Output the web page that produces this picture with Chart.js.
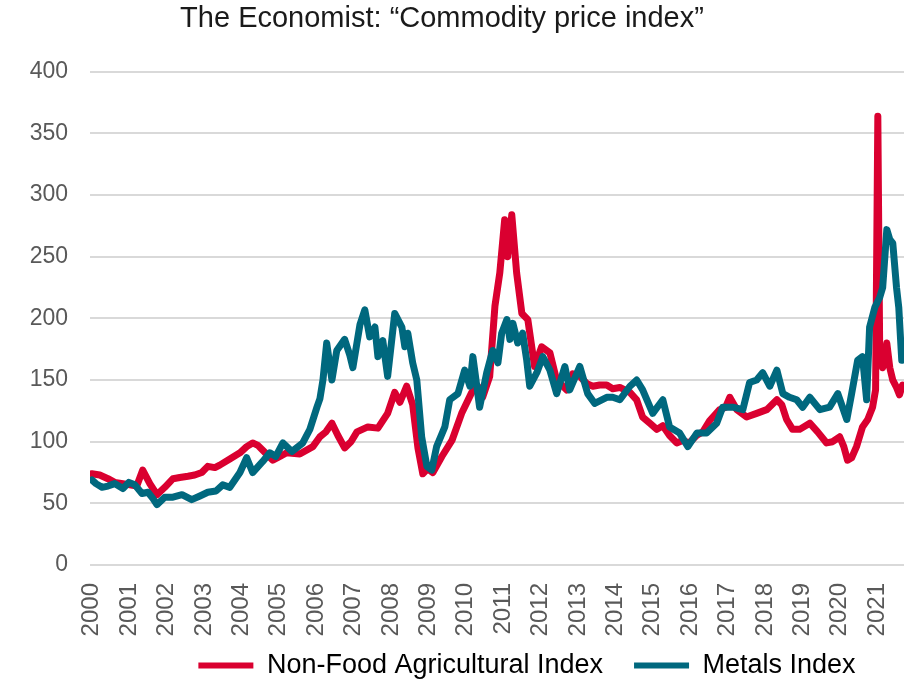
<!DOCTYPE html>
<html>
<head>
<meta charset="utf-8">
<script src="https://cdn.jsdelivr.net/npm/chart.js@4"></script>
<style>
	html, body { margin: 0; padding: 0; background: #fff; }
	#wrap { width: 904px; height: 680px; }
</style>
</head>
<body>
<div id="wrap"><canvas id="priceChart" width="904" height="680"></canvas></div>
<script>
'use strict';

// decimal years
const agriYears = [
	2000.00, 2000.21, 2000.43, 2000.61, 2000.83, 2001.02, 2001.20, 2001.36, 2001.55, 2001.74,
	2001.95, 2002.17, 2002.35, 2002.57, 2002.75, 2002.94, 2003.10, 2003.29, 2003.42, 2003.69,
	2003.96, 2004.14, 2004.30, 2004.44, 2004.57, 2004.84, 2005.03, 2005.21, 2005.56, 2005.91,
	2006.10, 2006.26, 2006.42, 2006.58, 2006.76, 2006.93, 2007.09, 2007.38, 2007.65, 2007.91,
	2008.10, 2008.24, 2008.42, 2008.58, 2008.72, 2008.85, 2008.98, 2009.12, 2009.36, 2009.63,
	2009.89, 2010.16, 2010.32, 2010.45, 2010.64, 2010.78, 2010.91, 2011.04, 2011.12, 2011.23,
	2011.36, 2011.50, 2011.66, 2011.84, 2012.03, 2012.25, 2012.43, 2012.70, 2012.86, 2013.05,
	2013.24, 2013.40, 2013.58, 2013.77, 2013.93, 2014.12, 2014.39, 2014.57, 2014.73, 2014.92,
	2015.11, 2015.27, 2015.45, 2015.64, 2015.80, 2015.98, 2016.17, 2016.34, 2016.52, 2016.79,
	2016.95, 2017.06, 2017.25, 2017.51, 2017.78, 2018.05, 2018.32, 2018.45, 2018.58, 2018.74,
	2018.93, 2019.20, 2019.41, 2019.65, 2019.81, 2020.00, 2020.11, 2020.21, 2020.32, 2020.45,
	2020.61, 2020.75, 2020.88, 2020.96, 2021.02, 2021.07, 2021.15, 2021.26, 2021.34, 2021.42,
	2021.52, 2021.60, 2021.68
];
const agriValues = [
	74, 73, 70, 67, 66, 65, 64, 77, 66, 57,
	63, 70, 71, 72, 73, 75, 80, 79, 81, 86,
	91, 96, 99, 97, 93, 85, 88, 91, 90, 96,
	104, 108, 115, 105, 95, 100, 108, 112, 111, 123,
	140, 132, 145, 130, 95, 74, 78, 75, 88, 101,
	123, 140, 145, 136, 153, 210, 237, 280, 250, 284,
	237, 204, 199, 161, 177, 172, 150, 142, 155, 153,
	147, 145, 146, 146, 143, 144, 140, 134, 120, 115,
	110, 113, 105, 99, 101, 99, 105, 108, 117, 126,
	128, 136, 126, 120, 123, 126, 134, 130, 118, 110,
	110, 115, 108, 99, 100, 104, 96, 85, 87, 96,
	112, 118, 128, 142, 364, 175, 160, 180, 160, 150,
	144, 138, 146
];

const metalYears = [
	2000.00, 2000.11, 2000.27, 2000.43, 2000.61, 2000.83, 2000.99, 2001.15, 2001.34, 2001.50,
	2001.63, 2001.74, 2001.95, 2002.17, 2002.41, 2002.67, 2002.89, 2003.10, 2003.32, 2003.50,
	2003.69, 2003.96, 2004.14, 2004.30, 2004.57, 2004.76, 2004.92, 2005.11, 2005.35, 2005.64,
	2005.83, 2006.02, 2006.10, 2006.18, 2006.28, 2006.42, 2006.55, 2006.76, 2006.90, 2006.98,
	2007.17, 2007.30, 2007.43, 2007.57, 2007.65, 2007.78, 2007.91, 2008.10, 2008.29, 2008.37,
	2008.45, 2008.58, 2008.69, 2008.82, 2008.96, 2009.09, 2009.22, 2009.44, 2009.57, 2009.79,
	2009.97, 2010.11, 2010.19, 2010.37, 2010.56, 2010.72, 2010.86, 2010.96, 2011.10, 2011.18,
	2011.26, 2011.39, 2011.52, 2011.63, 2011.71, 2011.90, 2012.06, 2012.25, 2012.43, 2012.65,
	2012.78, 2013.05, 2013.26, 2013.45, 2013.77, 2013.93, 2014.12, 2014.39, 2014.57, 2014.73,
	2015.00, 2015.27, 2015.45, 2015.72, 2015.94, 2016.18, 2016.44, 2016.71, 2016.87, 2017.14,
	2017.41, 2017.59, 2017.78, 2017.94, 2018.13, 2018.32, 2018.48, 2018.66, 2018.85, 2019.01,
	2019.20, 2019.47, 2019.73, 2019.95, 2020.19, 2020.32, 2020.48, 2020.61, 2020.72, 2020.80,
	2020.94, 2021.07, 2021.15, 2021.26, 2021.34, 2021.42, 2021.52, 2021.58, 2021.66
];
const metalValues = [
	69, 66, 63, 64, 66, 62, 67, 65, 58, 59,
	54, 49, 55, 55, 57, 53, 56, 59, 60, 65,
	63, 75, 87, 75, 84, 91, 88, 99, 92, 99,
	110, 128, 135, 150, 180, 150, 174, 183, 170, 160,
	195, 207, 185, 193, 169, 182, 153, 204, 193, 177,
	188, 164, 150, 104, 80, 77, 96, 112, 134, 139,
	158, 145, 169, 128, 156, 174, 164, 188, 199, 183,
	196, 180, 188, 166, 145, 156, 169, 158, 139, 161,
	142, 161, 139, 131, 136, 136, 134, 145, 150, 142,
	123, 134, 112, 107, 96, 107, 107, 115, 128, 128,
	126, 148, 150, 156, 145, 158, 139, 136, 134, 128,
	136, 126, 128, 139, 118, 139, 166, 169, 134, 193,
	209, 217, 225, 272, 264, 261, 225, 209, 166
];

const yearTicks = [];
for (let y = 2000; y <= 2021; y++) yearTicks.push(y);

const seriesNames = ['Non-Food Agricultural Index', 'Metals Index'];
const seriesColors = ['#da0030', '#00687e'];

function toPoints(xs, ys) {
	return xs.map((x, i) => ({ x: x, y: ys[i] }));
}

// nudge title and legend sideways, like the original,
// and let the rotated year labels draw below the short x box
const blockShift = {
	id: 'blockShift',
	afterLayout(chart) {
		chart.legend.left += 75;
		chart.legend.right += 75;
		chart.titleBlock.left -= 10;
		chart.titleBlock.right -= 10;
		chart.scales.x.bottom = chart.height;
	}
};

const config = {
	type: 'line',
	data: {
		datasets: [
			{
				label: seriesNames[0],
				data: toPoints(agriYears, agriValues),
				borderColor: seriesColors[0],
				backgroundColor: seriesColors[0],
				order: 1
			},
			{
				label: seriesNames[1],
				data: toPoints(metalYears, metalValues),
				borderColor: seriesColors[1],
				backgroundColor: seriesColors[1],
				order: 0
			}
		]
	},
	options: {
		responsive: false,
		animation: false,
		layout: { padding: { left: 0, right: 0, top: 0, bottom: -9 } },
		elements: {
			point: { radius: 0 },
			line: { borderWidth: 7, tension: 0, borderJoinStyle: 'round', borderCapStyle: 'round' }
		},
		scales: {
			x: {
				type: 'linear',
				min: 1999.95,
				max: 2021.72,
				afterBuildTicks: (axis) => {
					axis.ticks = yearTicks.map(v => ({ value: v }));
				},
				afterFit: (s) => {
					s.height = 56;
					s.paddingLeft = 0;
					s.paddingRight = 0;
				},
				grid: { display: false, drawTicks: false },
				border: { display: false },
				ticks: {
					minRotation: 90,
					maxRotation: 90,
					padding: 18,
					color: '#595959',
					font: { family: 'Liberation Sans', size: 24 },
					callback: (v) => String(v)
				}
			},
			y: {
				min: 0,
				max: 400,
				afterFit: (s) => { s.width = 90; },
				grid: { color: '#d9d9d9', lineWidth: 2, drawTicks: false },
				border: { display: false },
				ticks: {
					stepSize: 50,
					padding: 22,
					color: '#595959',
					font: { family: 'Liberation Sans', size: 23 }
				}
			}
		},
		plugins: {
			title: {
				display: true,
				text: 'The Economist: “Commodity price index”',
				color: '#1a1a1a',
				font: { family: 'Liberation Sans', size: 29, weight: 'normal' },
				padding: { top: 2, bottom: 35 }
			},
			legend: {
				position: 'bottom',
				onClick: (e) => e.stopPropagation(),
				labels: {
					boxWidth: 55,
					boxHeight: 6,
					padding: 31,
					color: '#595959',
					font: { family: 'Liberation Sans', size: 27 },
					generateLabels: (chart) => chart.data.datasets.map((ds, i) => ({
						text: ds.label,
						fillStyle: ds.borderColor,
						strokeStyle: ds.borderColor,
						lineWidth: 0,
						datasetIndex: i
					}))
				}
			},
			tooltip: { enabled: false }
		}
	},
	plugins: [blockShift]
};

window.addEventListener('load', function() {
	let ctx = document.getElementById('priceChart').getContext('2d');
	const priceChart = new Chart(ctx, config);
}, false);
</script>
</body>
</html>
